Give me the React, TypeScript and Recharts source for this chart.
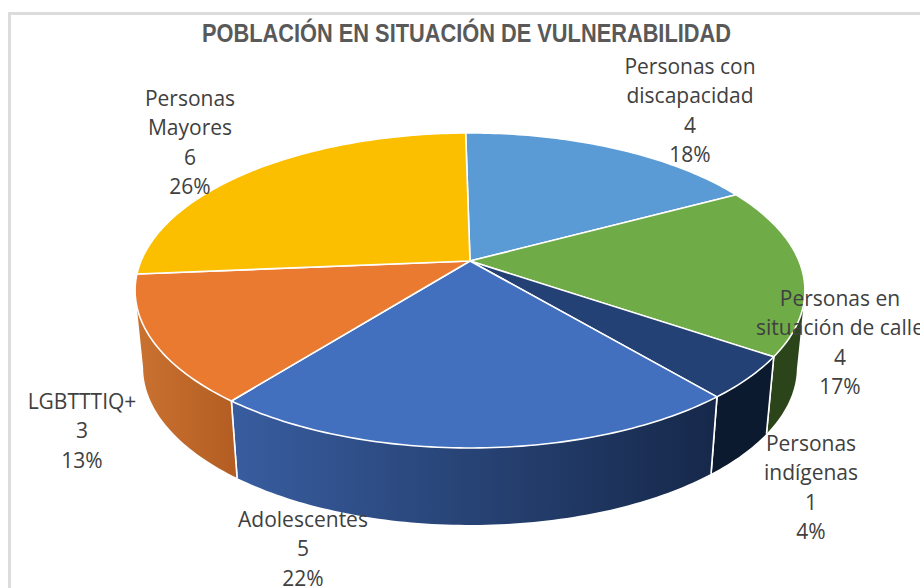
import React from "react";
import { PieChart, Pie, Cell } from "recharts";

const titleText = "POBLACIÓN EN SITUACIÓN DE VULNERABILIDAD";
const categories = [
  "Personas con discapacidad",
  "Personas en situación de calle",
  "Personas indígenas",
  "Adolescentes",
  "LGBTTTIQ+",
  "Personas Mayores",
];
const values = [4, 4, 1, 5, 3, 6];
const percentLabels = ["18%", "17%", "4%", "22%", "13%", "26%"];
const categoryLines = [
  ["Personas con", "discapacidad"],
  ["Personas en", "situación de calle"],
  ["Personas", "indígenas"],
  ["Adolescentes"],
  ["LGBTTTIQ+"],
  ["Personas", "Mayores"],
];
const topColors = ["#5B9BD5", "#6FAB47", "#244176", "#4270BF", "#E97A30", "#FBBF00"];
const wallStops = [
  ["#2F5F8C", "#2F5F8C"],
  ["#2C441A", "#2C441A"],
  ["#0C1A2F", "#0C1A2F"],
  ["#385D9F", "#16284A"],
  ["#CA7230", "#B35D23"],
  ["#9A7500", "#9A7500"],
];
// label anchor: centre x, first-baseline y
const labelAnchors = [
  [690, 74],
  [840, 306],
  [811, 451],
  [303, 527],
  [82, 409],
  [190, 106],
];

const tableData = categories.map((name, i) => ({ name, value: values[i] }));

const CX = 470;
const CY = 261;
const R = 329;
const VERT = 152 / 329;
const K = 0.187;
const DEPTH = 77;
const SHRINK = 0.976;
const LINE_H = 29.4;
const FRONT_V = -K;

const proj = (deg: number, cx: number, cy: number, r: number) => {
  const a = (deg * Math.PI) / 180;
  const u = Math.cos(a);
  const v = Math.sin(a);
  const d = 1 + K * v;
  return { x: cx + (r * u) / d, y: cy - (r * VERT * v) / d, v };
};
const drop = (p: { x: number; y: number }, cx: number) => ({
  x: cx + (p.x - cx) * SHRINK,
  y: p.y + DEPTH,
});
const samples = (start: number, end: number) => {
  const n = Math.max(2, Math.ceil(Math.abs(end - start)));
  return Array.from({ length: n + 1 }, (_, i) => start + ((end - start) * i) / n);
};

const TopFace = (props: any) => {
  const { cx, cy, outerRadius, startAngle, endAngle, index } = props;
  const pts = samples(startAngle, endAngle).map((d) => proj(d, cx, cy, outerRadius));
  const path =
    `M${cx},${cy} ` + pts.map((p) => `L${p.x.toFixed(2)},${p.y.toFixed(2)}`).join(" ") + " Z";
  return <path d={path} fill={topColors[index]} stroke="#ffffff" strokeWidth={1.6} strokeLinejoin="round" />;
};

const Wall = (props: any) => {
  const { cx, cy, outerRadius, startAngle, endAngle, index } = props;
  const all = samples(startAngle, endAngle).map((d) => proj(d, cx, cy, outerRadius));
  const pts = all.filter((p) => p.v <= FRONT_V);
  if (pts.length < 2) return <g />;
  const low = pts.map((p) => drop(p, cx));
  const path =
    "M" +
    pts.map((p) => `${p.x.toFixed(2)},${p.y.toFixed(2)}`).join(" L") +
    " L" +
    low
      .slice()
      .reverse()
      .map((p) => `${p.x.toFixed(2)},${p.y.toFixed(2)}`)
      .join(" L") +
    " Z";
  const id = `wall-${index}`;
  const edges: React.ReactNode[] = [];
  if (all[0].v <= FRONT_V) {
    const b = drop(all[0], cx);
    edges.push(<line key="s" x1={all[0].x} y1={all[0].y} x2={b.x} y2={b.y} stroke="#fff" strokeWidth={1.6} />);
  }
  const last = all[all.length - 1];
  if (last.v <= FRONT_V) {
    const b = drop(last, cx);
    edges.push(<line key="e" x1={last.x} y1={last.y} x2={b.x} y2={b.y} stroke="#fff" strokeWidth={1.6} />);
  }
  return (
    <g>
      <defs>
        <linearGradient id={id} x1="0" y1="0" x2="1" y2="0">
          <stop offset="0" stopColor={wallStops[index][0]} />
          <stop offset="1" stopColor={wallStops[index][1]} />
        </linearGradient>
      </defs>
      <path d={path} fill={`url(#${id})`} stroke="none" />
      {edges}
    </g>
  );
};

const SliceLabel = (props: any) => {
  const { index } = props;
  const [x, y] = labelAnchors[index];
  const lines = [...categoryLines[index], String(values[index]), percentLabels[index]];
  return (
    <text
      x={x}
      y={y}
      textAnchor="middle"
      fontFamily="'Open Sans', sans-serif"
      fontSize={21}
      fill="#404040"
    >
      {lines.map((l, i) => (
        <tspan key={i} x={x} y={y + i * LINE_H}>
          {l}
        </tspan>
      ))}
    </text>
  );
};

export default function App() {
  return (
    <div style={{ position: "absolute", left: 0, top: 0, width: 920, height: 588, overflow: "hidden", background: "#fff" }}>
      <div
        style={{
          position: "absolute",
          left: 8,
          top: 12,
          width: 920,
          height: 588,
          borderLeft: "3px solid #dcdcdc",
          borderTop: "3px solid #dcdcdc",
          boxSizing: "border-box",
        }}
      />
      <div style={{ position: "absolute", left: 0, top: 0 }}>
        <PieChart width={920} height={588} margin={{ top: 0, right: 0, bottom: 0, left: 0 }}>
          <text
            x={466.5}
            y={42}
            textAnchor="middle"
            textLength={529}
            lengthAdjust="spacingAndGlyphs"
            fontFamily="'Liberation Sans', sans-serif"
            fontWeight={700}
            fontSize={26.5}
            fill="#595959"
          >
            {titleText}
          </text>
          <Pie
            data={tableData}
            dataKey="value"
            nameKey="name"
            cx={CX}
            cy={CY}
            outerRadius={R}
            startAngle={90.9}
            endAngle={-269.1}
            paddingAngle={0}
            stroke="none"
            shape={Wall}
            isAnimationActive={false}
            legendType="none"
          />
          <Pie
            data={tableData}
            dataKey="value"
            nameKey="name"
            cx={CX}
            cy={CY}
            outerRadius={R}
            startAngle={90.9}
            endAngle={-269.1}
            paddingAngle={0}
            shape={TopFace}
            label={SliceLabel}
            labelLine={false}
            isAnimationActive={false}
          >
            {tableData.map((d, i) => (
              <Cell key={d.name} fill={topColors[i]} />
            ))}
          </Pie>
        </PieChart>
      </div>
    </div>
  );
}
